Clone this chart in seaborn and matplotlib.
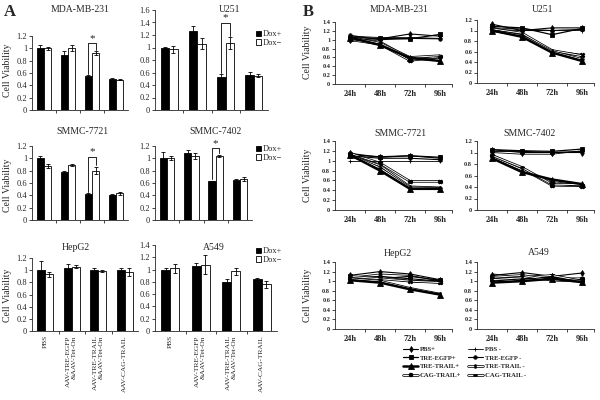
import matplotlib
matplotlib.use("Agg")
import matplotlib.pyplot as plt
import matplotlib.patheffects as pe
from matplotlib.patches import Patch
from matplotlib.lines import Line2D
import seaborn as sns
import pandas as pd
import numpy as np

# ---- data: panel A (bar charts) ----
groups = ["PBS", "AAV-TRE-EGFP\n&AAV-Tet-On", "AAV-TRE-TRAIL\n&AAV-Tet-On", "AAV-CAG-TRAIL"]
dox_levels = ["Dox+", "Dox\u2212"]

dox_plus = {
    "MDA-MB-231": [1.00, 0.90, 0.55, 0.50],
    "U251": [1.00, 1.26, 0.53, 0.56],
    "SMMC-7721": [1.00, 0.78, 0.42, 0.41],
    "SMMC-7402": [1.00, 1.08, 0.63, 0.65],
    "HepG2": [1.01, 1.03, 1.01, 1.01],
    "A549": [1.00, 1.06, 0.80, 0.84],
}
dox_minus = {
    "MDA-MB-231": [1.00, 1.01, 0.92, 0.49],
    "U251": [0.97, 1.06, 1.07, 0.55],
    "SMMC-7721": [0.88, 0.89, 0.80, 0.43],
    "SMMC-7402": [1.00, 1.04, 1.04, 0.67],
    "HepG2": [0.93, 1.06, 0.99, 0.97],
    "A549": [1.02, 1.08, 0.97, 0.76],
}
err_plus = {
    "MDA-MB-231": [0.05, 0.06, 0.01, 0.02],
    "U251": [0.01, 0.08, 0.04, 0.05],
    "SMMC-7721": [0.04, 0.02, 0.01, 0.01],
    "SMMC-7402": [0.11, 0.06, 0.01, 0.02],
    "HepG2": [0.14, 0.07, 0.02, 0.02],
    "A549": [0.03, 0.04, 0.04, 0.03],
}
err_minus = {
    "MDA-MB-231": [0.02, 0.05, 0.03, 0.01],
    "U251": [0.05, 0.09, 0.09, 0.02],
    "SMMC-7721": [0.03, 0.02, 0.06, 0.02],
    "SMMC-7402": [0.03, 0.05, 0.02, 0.03],
    "HepG2": [0.04, 0.03, 0.02, 0.06],
    "A549": [0.07, 0.15, 0.06, 0.06],
}
# height of the significance bracket over the TRE-TRAIL group
sig_bracket = {"MDA-MB-231": 1.08, "U251": 1.40, "SMMC-7721": 1.02, "SMMC-7402": 1.16}

# ---- data: panel B (time course) ----
times = ["24h", "48h", "72h", "96h"]
series = ["PBS+", "TRE-EGFP+", "TRE-TRAIL+", "CAG-TRAIL+",
          "PBS -", "TRE-EGFP -", "TRE-TRAIL -", "CAG-TRAIL -"]

mda_lines = [[1.00, 1.02, 1.13, 1.08], [1.05, 1.03, 1.02, 1.12], [1.05, 0.88, 0.59, 0.52],
             [1.00, 0.90, 0.53, 0.62], [1.08, 1.05, 1.05, 1.03], [1.10, 1.00, 1.03, 1.02],
             [1.02, 0.95, 0.57, 0.55], [1.05, 0.92, 0.60, 0.64]]
u251_lines = [[1.12, 1.00, 1.05, 1.05], [1.08, 1.05, 0.92, 1.04], [1.00, 0.88, 0.58, 0.42],
              [1.05, 0.90, 0.60, 0.53], [1.05, 1.03, 1.00, 1.00], [1.02, 1.00, 1.00, 1.02],
              [1.03, 0.95, 0.62, 0.52], [1.00, 0.90, 0.60, 0.45]]
smmc7721_lines = [[1.15, 1.07, 1.10, 1.05], [1.12, 1.08, 1.10, 1.07], [1.12, 0.80, 0.43, 0.43],
                  [1.15, 0.95, 0.58, 0.58], [1.00, 1.00, 1.00, 1.00], [1.10, 1.05, 1.05, 1.02],
                  [1.10, 0.90, 0.47, 0.45], [1.12, 0.85, 0.45, 0.44]]
smmc7402_lines = [[1.05, 1.00, 1.00, 1.00], [1.05, 1.03, 1.02, 1.06], [0.90, 0.66, 0.53, 0.45],
                  [0.95, 0.72, 0.43, 0.42], [1.00, 0.97, 0.97, 1.03], [1.02, 1.02, 1.00, 1.02],
                  [0.92, 0.70, 0.48, 0.42], [0.95, 0.74, 0.45, 0.44]]
hepg2_lines = [[1.12, 1.20, 1.15, 1.03], [1.10, 1.05, 1.10, 1.02], [1.02, 0.97, 0.83, 0.72],
               [1.05, 1.08, 1.00, 0.98], [1.08, 1.15, 1.12, 1.00], [1.05, 1.10, 1.05, 1.00],
               [1.05, 1.00, 0.85, 0.73], [1.10, 1.05, 1.00, 0.97]]
a549_lines = [[1.12, 1.18, 1.10, 1.17], [1.05, 1.05, 1.10, 1.02], [0.97, 1.00, 1.05, 0.98],
              [1.10, 1.02, 1.05, 1.05], [1.15, 1.10, 1.12, 1.00], [1.00, 1.05, 1.08, 1.02],
              [1.03, 1.07, 1.12, 1.00], [1.08, 1.12, 1.02, 1.00]]

sns.set_style("ticks")
plt.rcParams["font.family"] = ["Liberation Serif", "DejaVu Serif"]
plt.rcParams["axes.linewidth"] = 0.6
plt.rcParams["xtick.major.width"] = 0.6
plt.rcParams["ytick.major.width"] = 0.6
plt.rcParams["xtick.minor.width"] = 0.6

W, H = 600, 400
fig = plt.figure(figsize=(6, 4), dpi=100)


def add_ax(l, t, r, b):
    return fig.add_axes([l / W, 1 - b / H, (r - l) / W, (b - t) / H])


def ftext(x, y, s, **kw):
    fig.text(x / W, 1 - y / H, s, **kw)


# ---------------- panel A ----------------
bar_layout = {
    "MDA-MB-231": ((32, 36, 128, 110), 1.2, (80, 9)),
    "U251": ((155, 10, 268, 110), 1.6, (230, 9)),
    "SMMC-7721": ((32, 146, 128, 220), 1.2, (82, 131)),
    "SMMC-7402": ((155, 146, 252, 220), 1.2, (215, 131)),
    "HepG2": ((32, 258, 138, 331), 1.2, (76, 247)),
    "A549": ((155, 245, 277, 331), 1.4, (214, 247)),
}

for name, (rect, ymax, tpos) in bar_layout.items():
    ax = add_ax(*rect)
    plus, minus = dox_plus[name], dox_minus[name]
    df = pd.DataFrame({"group": groups * 2,
                       "dox": [dox_levels[0]] * 4 + [dox_levels[1]] * 4,
                       "value": plus + minus})
    sns.barplot(data=df, x="group", y="value", hue="dox", order=groups, hue_order=dox_levels,
                palette={dox_levels[0]: "black", dox_levels[1]: "white"},
                edgecolor="black", linewidth=0.6, width=0.6, errorbar=None, legend=False, ax=ax)
    xs = np.arange(len(groups))
    ax.errorbar(xs - 0.15, plus, yerr=err_plus[name], fmt="none", ecolor="black",
                elinewidth=0.6, capsize=1.3, capthick=0.6)
    ax.errorbar(xs + 0.15, minus, yerr=err_minus[name], fmt="none", ecolor="black",
                elinewidth=0.6, capsize=1.3, capthick=0.6)
    if name in sig_bracket:
        top = sig_bracket[name]
        lo1 = plus[2] + err_plus[name][2] + 0.03
        lo2 = minus[2] + err_minus[name][2] + 0.03
        ax.plot([2 - 0.15, 2 - 0.15, 2 + 0.15, 2 + 0.15], [lo1, top, top, lo2],
                color="black", lw=0.6, clip_on=False)
        ax.text(2, top + 0.01 * ymax / 1.2, "*", ha="center", va="bottom", fontsize=8)
    ax.set_xlim(-0.5, 3.5)
    ax.set_ylim(0, ymax)
    yt = np.arange(0, ymax + 0.01, 0.2)
    ax.set_yticks(yt)
    ax.set_yticklabels(["{:g}".format(round(v, 1)) for v in yt], fontsize=6)
    ax.tick_params(axis="y", length=2, pad=1.5)
    ax.set_xticks([0.5, 1.5, 2.5], minor=True)
    ax.tick_params(axis="x", which="minor", length=2)
    if name in ("HepG2", "A549"):
        ax.set_xticks(xs)
        ax.set_xticklabels(groups, rotation=90, fontsize=5.3, ha="center", va="top",
                           multialignment="right")
        ax.tick_params(axis="x", which="major", length=0, pad=3)
    else:
        ax.set_xticks([])
    ax.set_xlabel("")
    ax.set_ylabel("")
    sns.despine(ax=ax)
    ftext(tpos[0], tpos[1], name, ha="center", va="center", fontsize=7)

    if name in ("U251", "SMMC-7402", "A549"):
        handles = [Patch(facecolor="black", edgecolor="black", lw=0.6),
                   Patch(facecolor="white", edgecolor="black", lw=0.6)]
        ly = {"U251": 26, "SMMC-7402": 141, "A549": 243}[name]
        fig.legend(handles, dox_levels, loc="upper left", bbox_to_anchor=(252 / W, 1 - ly / H),
                   frameon=False, fontsize=6, handlelength=0.6, handleheight=0.6,
                   handletextpad=0.2, labelspacing=0.1, borderpad=0)

for yc in (70, 185, 295):
    ftext(8, yc, "Cell Viability", rotation=90, ha="center", va="center", fontsize=7)
ftext(10, 12, "A", fontsize=12, fontweight="bold", ha="center", va="center")

# ---------------- panel B ----------------
line_data = {"MDA-MB-231": mda_lines, "U251": u251_lines, "SMMC-7721": smmc7721_lines,
             "SMMC-7402": smmc7402_lines, "HepG2": hepg2_lines, "A549": a549_lines}
line_layout = {
    "MDA-MB-231": ((335, 22, 452, 84), 1.4, (399, 10)),
    "U251": ((477, 20, 594, 83), 1.2, (543, 10)),
    "SMMC-7721": ((335, 141, 452, 210), 1.4, (400, 133)),
    "SMMC-7402": ((477, 141, 594, 210), 1.2, (530, 133)),
    "HepG2": ((335, 262, 452, 329), 1.4, (398, 253)),
    "A549": ((477, 262, 594, 329), 1.4, (539, 253)),
}
styles = {
    "PBS+": dict(marker="d", ms=3.0, lw=0.8, hollow=False),
    "TRE-EGFP+": dict(marker="s", ms=2.8, lw=0.9, hollow=False),
    "TRE-TRAIL+": dict(marker="^", ms=5.0, lw=1.8, hollow=False),
    "CAG-TRAIL+": dict(marker="x", ms=2.5, lw=0.7, hollow=True),
    "PBS -": dict(marker="+", ms=2.5, lw=0.6, hollow=False),
    "TRE-EGFP -": dict(marker="o", ms=2.5, lw=0.8, hollow=False),
    "TRE-TRAIL -": dict(marker="|", ms=2.5, lw=0.7, hollow=True),
    "CAG-TRAIL -": dict(marker="_", ms=3.0, lw=0.7, hollow=True),
}


def style_kw(st):
    kw = dict(marker=st["marker"], markersize=st["ms"], linewidth=st["lw"],
              markerfacecolor="black", markeredgecolor="black", markeredgewidth=0.6)
    if st["hollow"]:
        kw["color"] = "white"
        kw["path_effects"] = [pe.Stroke(linewidth=st["lw"] + 1.1, foreground="black"), pe.Normal()]
    else:
        kw["color"] = "black"
    return kw


tpos_x = np.arange(len(times))
for name, (rect, ymax, tpos) in line_layout.items():
    ax = add_ax(*rect)
    for sname, vals in zip(series, line_data[name]):
        st = styles[sname]
        z = 5 if sname == "TRE-TRAIL+" else 3
        sns.lineplot(x=tpos_x, y=vals, ax=ax, errorbar=None, legend=False, zorder=z,
                     **style_kw(st))
    ax.set_xlim(-0.5, 3.4)
    ax.set_ylim(0, ymax)
    yt = np.arange(0, ymax + 0.01, 0.2)
    ax.set_yticks(yt)
    ax.set_yticklabels(["{:g}".format(round(v, 1)) for v in yt], fontsize=4.5, fontweight="bold")
    ax.tick_params(axis="y", length=2, pad=1.5)
    ax.set_xticks(tpos_x)
    ax.set_xticklabels(times, fontsize=6, fontweight="bold")
    ax.tick_params(axis="x", which="major", length=0, pad=4)
    ax.set_xticks([0.5, 1.5, 2.5, 3.4], minor=True)
    ax.tick_params(axis="x", which="minor", length=2)
    ax.set_xlabel("")
    ax.set_ylabel("")
    sns.despine(ax=ax)
    ftext(tpos[0], tpos[1], name, ha="center", va="center", fontsize=7)

for yc in (52, 175, 295):
    ftext(308, yc, "Cell Viability", rotation=90, ha="center", va="center", fontsize=7)
ftext(308, 12, "B", fontsize=12, fontweight="bold", ha="center", va="center")

handles = [Line2D([], [], **style_kw(styles[s])) for s in series]
fig.legend(handles, series, ncol=2, loc="upper left", bbox_to_anchor=(400 / W, 1 - 343 / H),
           frameon=False, prop={"size": 4.8, "weight": "bold"}, handlelength=2.2,
           handletextpad=0.3, columnspacing=1.0, labelspacing=0.45, borderpad=0)

fig.savefig("out.png", dpi=100)
